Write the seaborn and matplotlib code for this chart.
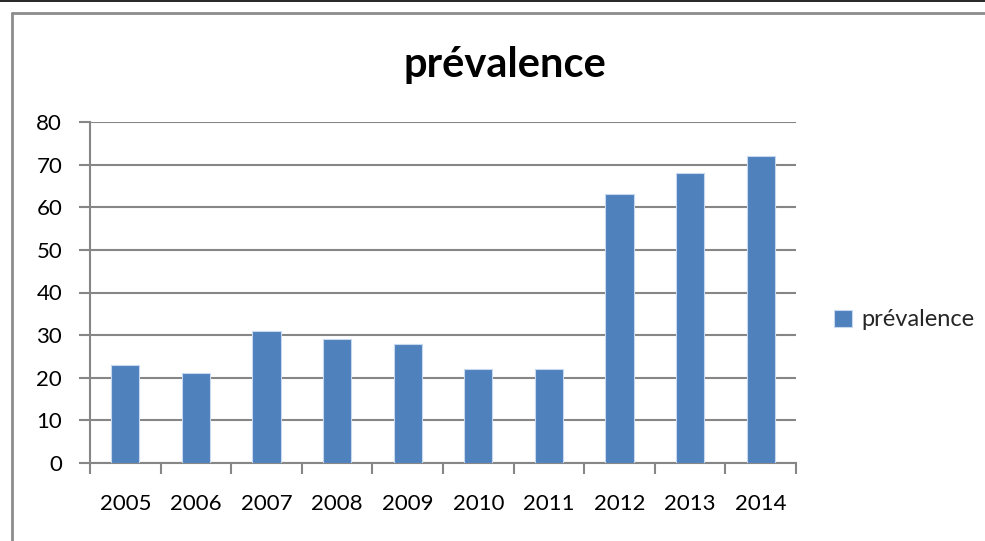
import matplotlib
matplotlib.use("Agg")
import matplotlib.pyplot as plt
import seaborn as sns
import pandas as pd
from matplotlib.lines import Line2D
from matplotlib.ticker import FixedLocator

years = ["2005", "2006", "2007", "2008", "2009", "2010", "2011", "2012", "2013", "2014"]
prevalence = [23, 21, 31, 29, 28, 22, 22, 63, 68, 72]
yticks = [0, 10, 20, 30, 40, 50, 60, 70, 80]
series_name = "prévalence"
title = "prévalence"

sns.set_theme(style="white")
plt.rcParams['font.family'] = ['Lato', 'DejaVu Sans']

W, H = 985, 541
fig = plt.figure(figsize=(W / 100, H / 100), dpi=100)
ax = fig.add_axes([90 / W, 1 - 463 / H, (796 - 90) / W, (463 - 122) / H])

df = pd.DataFrame({"year": years, "value": prevalence})
sns.barplot(data=df, x="year", y="value", ax=ax, color="#4F81BD", saturation=1, width=0.4,
            edgecolor="#C6D9F1", linewidth=0.8, label=series_name, zorder=3)

grid_c = "#868686"
ax.set_ylim(0, 80)
ax.set_xlim(-0.5, len(years) - 0.5)
ax.set_yticks(yticks)
ax.yaxis.grid(True, color=grid_c, linewidth=1.5, zorder=0)
ax.set_axisbelow(True)
for s in ["top", "right"]:
    ax.spines[s].set_visible(False)
for s in ["left", "bottom"]:
    ax.spines[s].set_color(grid_c)
    ax.spines[s].set_linewidth(1.5)

ax.xaxis.set_minor_locator(FixedLocator([i - 0.5 for i in range(len(years) + 1)]))
ax.tick_params(axis="x", which="major", length=0, pad=22, labelsize=16, labelcolor="black")
ax.tick_params(axis="x", which="minor", length=8, width=1.5, color=grid_c, direction="out", bottom=True)
ax.tick_params(axis="y", which="major", length=8, width=1.5, color=grid_c, direction="out", left=True,
               pad=12, labelsize=16, labelcolor="black")
ax.set_xlabel("")
ax.set_ylabel("")

fig.text(505 / W, 1 - 65 / H, title, ha="center", va="center", fontsize=30, fontweight="bold", color="black")

ax.legend(loc="center left", bbox_to_anchor=(834 / W, 1 - 320 / H), bbox_transform=fig.transFigure,
          frameon=False, fontsize=17, handlelength=0.75, handleheight=0.75, handletextpad=0.4,
          borderaxespad=0, borderpad=0)

# outer frame lines
fig.add_artist(Line2D([0, 1], [1 - 0.5 / H, 1 - 0.5 / H], transform=fig.transFigure, color="black", linewidth=1.2))
fig.add_artist(Line2D([12 / W, 1], [1 - 12.5 / H, 1 - 12.5 / H], transform=fig.transFigure, color="#8C8C8C", linewidth=2))
fig.add_artist(Line2D([12 / W, 12 / W], [0, 1 - 12.5 / H], transform=fig.transFigure, color="#8C8C8C", linewidth=2))

fig.savefig("out.png", dpi=100)
